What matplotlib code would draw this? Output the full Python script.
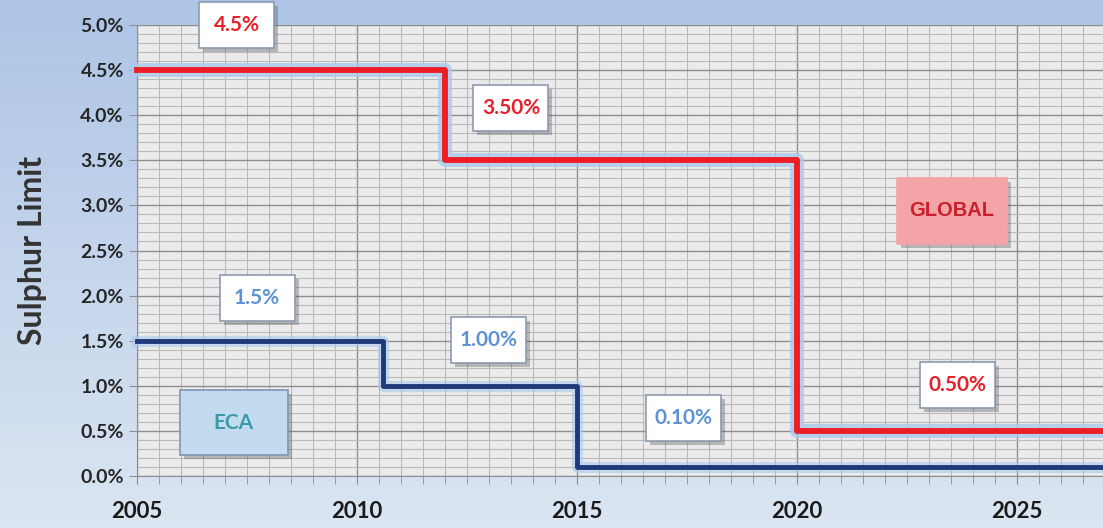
import numpy as np
import matplotlib
matplotlib.use("Agg")
import matplotlib.pyplot as plt
from matplotlib.patches import Rectangle
from matplotlib.ticker import MultipleLocator, FuncFormatter
import matplotlib.patheffects as pe

# sulphur limits (%), step changes
global_years = [2005, 2012, 2020, 2027]
global_limit = [4.5, 3.5, 0.5, 0.5]
eca_years = [2005, 2010.6, 2015, 2027]
eca_limit = [1.5, 1.0, 0.1, 0.1]

# annotation labels
global_labels = ["4.5%", "3.50%", "0.50%"]
eca_labels = ["1.5%", "1.00%", "0.10%"]

plt.rcParams['font.family'] = ['Lato', 'DejaVu Sans']

fig = plt.figure(figsize=(11.03, 5.28), dpi=100)

# background gradient
bg = fig.add_axes([0, 0, 1, 1], zorder=-10)
top = np.array([0.68, 0.77, 0.90])
bot = np.array([0.86, 0.90, 0.95])
t = np.linspace(0, 1, 256)[:, None]
grad = top[None, :] * (1 - t) + bot[None, :] * t
bg.imshow(grad[:, None, :], aspect='auto', extent=[0, 1, 0, 1])
bg.axis('off')

ax = fig.add_axes([137 / 1103, 52 / 528, 1 - 137 / 1103, 451 / 528])
ax.set_facecolor('#ebebeb')
ax.set_xlim(2005, 2005 + (1103 - 137) / 44)
ax.set_ylim(0, 5.0)

ax.xaxis.set_major_locator(MultipleLocator(5))
ax.xaxis.set_minor_locator(MultipleLocator(0.5))
ax.yaxis.set_major_locator(MultipleLocator(0.5))
ax.yaxis.set_minor_locator(MultipleLocator(0.1))
ax.yaxis.set_major_formatter(FuncFormatter(lambda v, p: "%.1f%%" % v))
ax.grid(which='minor', color='#bababa', lw=0.8)
ax.grid(which='major', color='#8e8e8e', lw=1.0)
ax.set_axisbelow(True)

for s in ['top', 'right']:
    ax.spines[s].set_visible(False)
for s in ['left', 'bottom']:
    ax.spines[s].set_color('#8e8e8e')

ax.tick_params(axis='x', which='both', length=6, color='#8e8e8e', direction='out')
ax.tick_params(axis='x', which='major', pad=12, labelsize=16, labelcolor='#1a1a1a')
ax.tick_params(axis='y', which='major', length=6, color='#8e8e8e', labelsize=14, labelcolor='#262626')
ax.tick_params(axis='y', which='minor', length=0)
for lab in ax.get_xticklabels() + ax.get_yticklabels():
    lab.set_fontweight('bold')

ax.set_ylabel('Sulphur Limit', fontsize=23, fontweight='bold', color='#333333')
ax.yaxis.set_label_coords(-0.093, 0.5)

glow = [pe.Stroke(linewidth=10, foreground='#a9c8ec', alpha=0.8), pe.Normal()]
ax.step(global_years, global_limit, where='post', color='#ee1c25', lw=4.2,
        path_effects=glow, zorder=5, clip_on=False)
ax.step(eca_years, eca_limit, where='post', color='#1f3a7a', lw=3.5,
        path_effects=[pe.Stroke(linewidth=8, foreground='#a9c8ec', alpha=0.6), pe.Normal()],
        zorder=4, clip_on=False)

# label boxes (pixel units converted to data units)
dx = 1 / 44.0
dy = 5.0 / 451.0


def box(x, y, text, w=75, h=46, face='white', tcolor='#ee1c25', edge='#8a9bb0',
        size=15, family=None):
    ax.add_patch(Rectangle((x - w / 2 * dx + 4 * dx, y - h / 2 * dy - 4 * dy), w * dx, h * dy,
                           facecolor='#555555', alpha=0.35, edgecolor='none',
                           zorder=7, clip_on=False))
    ax.add_patch(Rectangle((x - w / 2 * dx, y - h / 2 * dy), w * dx, h * dy,
                           facecolor=face, edgecolor=edge, lw=1.2,
                           zorder=8, clip_on=False))
    kw = {}
    if family:
        kw['family'] = family
    ax.text(x, y, text, ha='center', va='center', fontsize=size, fontweight='bold',
            color=tcolor, zorder=9, clip_on=False, **kw)


global_pos = [(2007.27, 5.0), (2013.5, 4.08), (2023.64, 1.01)]
eca_pos = [(2007.73, 1.97), (2012.98, 1.51), (2017.41, 0.64)]

for (x, y), txt in zip(global_pos, global_labels):
    box(x, y, txt, tcolor='#e8202a')
for (x, y), txt in zip(eca_pos, eca_labels):
    box(x, y, txt, tcolor='#5e92d2')

box(2023.52, 2.94, 'GLOBAL', w=110, h=66, face='#f4a3a6', edge='#f4a3a6',
    tcolor='#c8202c', size=14.5, family=['Liberation Sans', 'DejaVu Sans'])
box(2007.2, 0.59, 'ECA', w=108, h=65, face='#c3dbef', edge='#7f96b4',
    tcolor='#3a9aa8', size=15)

fig.savefig('out.png', dpi=100)
